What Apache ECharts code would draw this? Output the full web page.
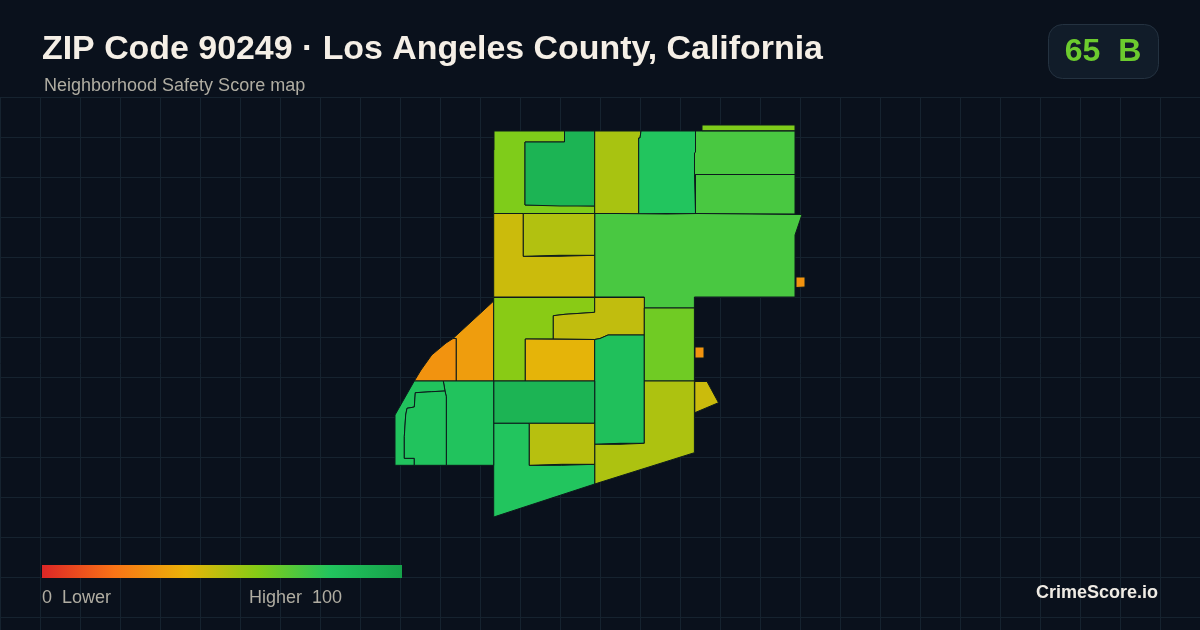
<!DOCTYPE html>
<html><head><meta charset="utf-8">
<style>html,body{margin:0;padding:0;background:#0a111c}#c{width:1200px;height:630px}</style>
<script src="https://cdn.jsdelivr.net/npm/echarts@6/dist/echarts.min.js"></script>
</head><body><div id="c"></div>
<script>
const titleText = 'ZIP Code 90249 · Los Angeles County, California';
const subtitleText = 'Neighborhood Safety Score map';
const badgeText = '65  B';
const brandText = 'CrimeScore.io';
const legendLow = '0  Lower';
const legendHigh = 'Higher  100';
const scaleStops = ['#dc2626','#f97316','#eab308','#84cc16','#22c55e','#16a34a'];

const areaNames = ['A','B','C','D','E','F','G','H','I','J','K','L1','L2','M','N','O','P','Q','R','S','T','U','V','W','X1','X2','X3'];
const areaScores = [61,90,53,80,72,61,72,72,30,46,51,30,33,59,48,41,83,64,52,30,46,90,80,50,81,81,81];
const areaRings = [
 [[494,131],[564.5,131],[564.5,142],[525,142],[525,205],[560,205],[560,206],[594.7,206],[594.7,213.5],[493.7,213.5],[493.7,150],[494,150]],
 [[564.5,131],[594.7,131],[594.7,206],[560,206],[560,205],[525,205],[525,142],[564.5,142]],
 [[594.7,131],[641,131],[640,138],[638.7,138],[638.7,214],[617,214],[617,213.5],[594.7,213.5]],
 [[641,131],[695.5,131],[695.5,152],[694.5,153],[694.5,174.5],[695.5,174.5],[695.5,213.5],[667,213.5],[667,214],[638.7,214],[638.7,138],[640,138]],
 [[695.5,131],[795,131],[795,174.5],[694.5,174.5],[694.5,153],[695.5,152]],
 [[702,125],[795,125],[795,130.7],[702,130.7]],
 [[695.5,174.5],[795,174.5],[795,214],[749,214],[698,213.5],[695.5,213.5]],
 [[594.7,213.5],[617,213.5],[617,214],[667,214],[667,213.5],[698,213.5],[749,214],[802,214.5],[795,235],[795,297],[694.4,297],[694.4,308],[644.3,308],[644.3,297],[594.7,297]],
 [[796,277],[805,277],[805,287],[796,287.5]],
 [[493.7,213.5],[523.3,213.5],[523.3,256.3],[559,256.3],[559,255.3],[594.7,255.3],[594.7,297],[493.7,297]],
 [[523.3,213.5],[594.7,213.5],[594.7,255.3],[559,255.3],[559,256.3],[523.3,256.3]],
 [[414.3,381],[421,370],[431.7,355],[446,343],[453,338.5],[456.3,338.5],[456.3,381]],
 [[453,338.5],[493.7,301],[493.7,381],[456.3,381],[456.3,338.5]],
 [[493.7,297.5],[594.7,297.5],[594.7,312.3],[585,313],[565,314.3],[553.3,315.7],[553.3,339],[525.3,339],[525.3,381],[493.7,381]],
 [[594.7,297.5],[644.3,297.5],[644.3,335],[608,335],[600,338.5],[594.7,339.5],[553.3,339],[553.3,315.7],[565,314.3],[585,313],[594.7,312.3]],
 [[525.3,339],[594.7,339.5],[594.7,381],[525.3,381]],
 [[594.7,339.5],[600,338.5],[608,335],[644.3,335],[644.3,443.3],[620,443.3],[620,444.3],[594.7,444.3]],
 [[644.3,308],[694.4,308],[694.4,381],[644.3,381]],
 [[644.3,381],[694.4,381],[694.4,452.7],[594.7,484],[594.7,444.3],[620,444.3],[620,443.3],[644.3,443.3]],
 [[695,347],[704,347],[704,358],[695,358]],
 [[694.8,381.5],[707,381.5],[718.5,402.7],[694.8,412.7]],
 [[493.7,381],[594.7,381],[594.7,423.3],[493.7,423.3]],
 [[493.7,423.3],[529.3,423.3],[529.3,465.3],[561.7,465.3],[561.7,464.3],[594.7,464.3],[594.7,484],[493.7,517]],
 [[529.3,423.3],[594.7,423.3],[594.7,464.3],[561.7,464.3],[561.7,465.3],[529.3,465.3]],
 [[443.3,381],[493.7,381],[493.7,465.3],[446.3,465.3],[446.3,396.7],[445,391]],
 [[414.3,381],[443.3,381],[445,391],[431.7,391.7],[415.3,392.7],[414.3,407],[407,408.3],[405.7,415],[404.3,436.7],[404.3,458.3],[414.3,458.3],[414.3,465.3],[395,465.3],[395,415]],
 [[415.3,392.7],[431.7,391.7],[445,391],[446.3,396.7],[446.3,465.3],[414.3,465.3],[414.3,458.3],[404.3,458.3],[404.3,436.7],[405.7,415],[407,408.3],[414.3,407]]
];

const geoJson = {type:'FeatureCollection',features:areaNames.map((name,i)=>({
  type:'Feature',properties:{name},
  geometry:{type:'Polygon',coordinates:[areaRings[i]]}
}))};
echarts.registerMap('zip90249', geoJson);

const chart = echarts.init(document.getElementById('c'),null,{renderer:'canvas'});
const F = '"Liberation Sans",Arial,sans-serif';
const legendGradient = new echarts.graphic.LinearGradient(0,0,1,0,
  scaleStops.map((color,i)=>({offset:i/(scaleStops.length-1),color})));
chart.setOption({
  animation:false,
  backgroundColor:'#0a111c',
  grid:{left:0,top:97,width:1200,height:533,containLabel:false},
  xAxis:{type:'value',min:0,max:1200,interval:40,axisLine:{show:false},axisTick:{show:false},axisLabel:{show:false},
    splitLine:{show:true,lineStyle:{color:'#16232f',width:1}}},
  yAxis:{type:'value',inverse:true,min:0,max:533,interval:40,axisLine:{show:false},axisTick:{show:false},axisLabel:{show:false},
    splitLine:{show:true,lineStyle:{color:'#16232f',width:1}}},
  visualMap:{type:'continuous',show:false,min:0,max:100,seriesIndex:0,inRange:{color:scaleStops}},
  series:[{
    type:'map',map:'zip90249',silent:true,
    projection:{project:p=>p,unproject:p=>p},
    left:0,top:0,width:1200,height:630,aspectScale:1,
    boundingCoords:[[0,0],[1200,630]],
    label:{show:false},
    itemStyle:{borderColor:'#0c1a1c',borderWidth:1},
    data:areaNames.map((name,i)=>({name,value:areaScores[i]}))
  }],
  graphic:[
    {type:'text',z:100,left:42,top:33,silent:true,style:{text:titleText,fill:'#f5efe6',font:'bold 33.9px '+F}},
    {type:'text',z:100,left:44,top:77,silent:true,style:{text:subtitleText,fill:'#b0ada2',font:'18px '+F}},
    {type:'rect',z:100,silent:true,shape:{x:1048.5,y:24.5,width:110,height:54,r:14},style:{fill:'#111c29',stroke:'#243240',lineWidth:1}},
    {type:'text',z:101,silent:true,x:1103,y:52,style:{text:badgeText,fill:'#6ccb2e',font:'bold 32px '+F,align:'center',verticalAlign:'middle'}},
    {type:'rect',z:100,silent:true,shape:{x:42,y:565,width:360,height:13},style:{fill:legendGradient}},
    {type:'text',z:100,silent:true,x:42,y:598,style:{text:legendLow,fill:'#b0ada2',font:'18px '+F,verticalAlign:'middle'}},
    {type:'text',z:100,silent:true,x:249,y:598,style:{text:legendHigh,fill:'#b0ada2',font:'18px '+F,verticalAlign:'middle'}},
    {type:'text',z:100,silent:true,x:1158,y:593,style:{text:brandText,fill:'#efebe4',font:'bold 18px '+F,align:'right',verticalAlign:'middle'}}
  ]
});
</script></body></html>
